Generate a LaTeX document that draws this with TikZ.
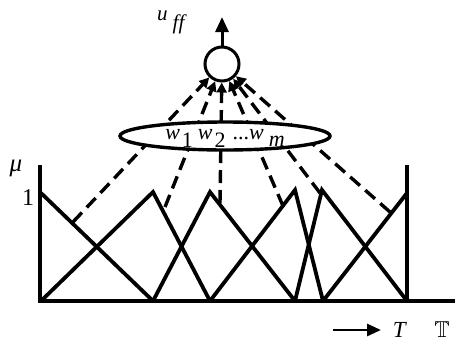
\documentclass[tikz,border=0pt]{standalone}
\usepackage{amssymb}
\usepackage{fontspec}
\setmainfont{Liberation Serif}
\usetikzlibrary{arrows.meta,shapes.geometric}
\newcommand{\bigtxt}[1]{\fontsize{#1}{#1}\selectfont}
\begin{document}
\begin{tikzpicture}[x=1pt,y=-1pt,
  mfline/.style={line width=3.8pt,line join=miter},
  axisline/.style={line width=4pt},
  dashcon/.style={line width=3.4pt,dash pattern=on 13pt off 7pt,-{Triangle[length=10pt,width=10pt]}},
  neuron/.style={circle,draw,line width=3pt,fill=white,minimum size=34pt,inner sep=0pt},
  weights/.style={ellipse,draw,line width=3.4pt,fill=white,minimum width=210pt,minimum height=28pt,inner sep=0pt},
  lbl/.style={inner sep=0pt}]
\useasboundingbox (0,0) rectangle (460,343);
% axes
\coordinate (o) at (40,301);
\coordinate (xe) at (455,301);
\coordinate (yt) at (40,165);
\coordinate (rb) at (407,301);
\coordinate (rt) at (407,165);
\draw[axisline] (yt) -- (o) -- (xe);
\draw[axisline] (rb) -- (rt);
% membership functions
\coordinate (b1) at (41,301); \coordinate (b2) at (153,301); \coordinate (b3) at (210,301);
\coordinate (b4) at (295,301); \coordinate (b5) at (323,301); \coordinate (b6) at (407,301);
\coordinate (p1) at (41,193); \coordinate (p2) at (153,192); \coordinate (p3) at (210,192);
\coordinate (p4) at (295,190); \coordinate (p5) at (322,190); \coordinate (p6) at (407,193);
\draw[mfline] (p1) -- (b2);
\draw[mfline] (b1) -- (p2) -- (b3);
\draw[mfline] (b2) -- (p3) -- (b4);
\draw[mfline] (b3) -- (p4) -- (b5);
\draw[mfline] (b4) -- (p5) -- (b6);
\draw[mfline] (b5) -- (p6);
% neuron
\node[neuron] (c) at (222,64) {};
\coordinate (top) at (222,17);
\draw[line width=3pt,-{Triangle[length=15pt,width=13pt]}] (c.north) -- (top);
% dashed connectors
\coordinate (q1) at (73,222);
\coordinate (q2) at (165,207);
\coordinate (q3) at (220,203);
\coordinate (q4) at (283,206);
\coordinate (q5) at (320,193);
\coordinate (q6) at (390,212);
\foreach \q in {q1,q2,q3,q4,q5,q6}
  \draw[dashcon] (\q) -- (c);
% weights ellipse
\node[weights] (e) at (225,136) {};
\node[lbl,anchor=base] (wt) at (225,139) {\bigtxt{22}\textit{w}\hspace{2pt}\raisebox{-8pt}{1}\hspace{5pt}\textit{w}\hspace{2pt}\raisebox{-8pt}{2}\hspace{7pt}...\textit{w}\hspace{5pt}\raisebox{-7pt}{\textit{m}}};
% labels
\node[lbl] (mu) at (16,168) {\bigtxt{25}\textit{μ}};
\node[lbl] (one) at (28,198) {\bigtxt{24}1};
\node[lbl,anchor=base] (uff) at (172,20) {\bigtxt{21}\textit{u}\hspace{5pt}\raisebox{-9pt}{\textit{ff}}};
\coordinate (as) at (333,330);
\coordinate (ae) at (381,330);
\draw[line width=2.8pt,-{Triangle[length=14pt,width=12pt]}] (as) -- (ae);
\node[lbl] (T) at (400,330) {\bigtxt{23}\textit{T}};
\node[lbl] (TT) at (442,330) {\bigtxt{23}$\mathbb{T}$};
\end{tikzpicture}
\end{document}
